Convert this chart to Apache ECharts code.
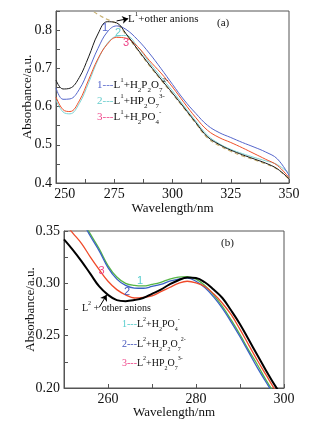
<!DOCTYPE html>
<html>
<head>
<meta charset="utf-8">
<script src="https://cdn.jsdelivr.net/npm/echarts@6/dist/echarts.min.js"></script>
<style>
  html, body { margin: 0; padding: 0; background: #fff; }
  #c { width: 323px; height: 427px; }
</style>
</head>
<body>
<div id="c"></div>
<script>
// panel (a)
const waveA = [250, 253, 256, 260, 264, 268, 272, 276, 280, 285, 290, 295, 300, 305, 310, 315, 320, 325, 330, 335, 340, 345, 350];
const blackA = [0.669, 0.646, 0.648, 0.676, 0.730, 0.790, 0.822, 0.819, 0.791, 0.750, 0.710, 0.672, 0.635, 0.597, 0.558, 0.521, 0.501, 0.486, 0.474, 0.463, 0.452, 0.437, 0.411];
const blueA = [0.649, 0.619, 0.620, 0.645, 0.696, 0.752, 0.795, 0.811, 0.802, 0.775, 0.740, 0.700, 0.658, 0.617, 0.582, 0.551, 0.532, 0.519, 0.506, 0.494, 0.481, 0.463, 0.420];
const cyanA = [0.617, 0.586, 0.581, 0.608, 0.662, 0.722, 0.765, 0.784, 0.786, 0.757, 0.716, 0.678, 0.641, 0.601, 0.562, 0.525, 0.503, 0.488, 0.477, 0.467, 0.458, 0.448, 0.425];
const redA = [0.625, 0.592, 0.587, 0.615, 0.670, 0.725, 0.763, 0.781, 0.779, 0.757, 0.721, 0.688, 0.651, 0.610, 0.571, 0.538, 0.519, 0.506, 0.492, 0.477, 0.462, 0.446, 0.414];
const dashWaveA = [264, 266, 268, 270, 272, 274, 276, 280, 285, 290, 295, 300, 305, 310, 315, 320, 325, 330, 335, 340, 345, 350];
const dashA = [0.860, 0.849, 0.841, 0.834, 0.828, 0.823, 0.817, 0.789, 0.748, 0.708, 0.670, 0.633, 0.595, 0.556, 0.518, 0.498, 0.483, 0.471, 0.461, 0.450, 0.436, 0.410];

// panel (b)
const waveB = [250, 252, 254, 256, 258, 260, 262, 264, 266, 268, 270, 272, 274, 276, 278, 280, 282, 284, 286, 288, 290, 292, 294, 296, 298, 300];
const blackB = [0.342, 0.332, 0.321, 0.309, 0.297, 0.289, 0.284, 0.283, 0.284, 0.286, 0.290, 0.294, 0.299, 0.303, 0.3055, 0.305, 0.301, 0.294, 0.286, 0.274, 0.261, 0.246, 0.231, 0.216, 0.202, 0.190];
const greenB = [0.390, 0.376, 0.362, 0.347, 0.333, 0.317, 0.306, 0.300, 0.298, 0.2975, 0.299, 0.301, 0.304, 0.306, 0.3065, 0.304, 0.298, 0.289, 0.278, 0.265, 0.251, 0.236, 0.222, 0.207, 0.194, 0.183];
const blueB = [0.388, 0.374, 0.360, 0.345, 0.331, 0.315, 0.304, 0.298, 0.2955, 0.2953, 0.297, 0.299, 0.302, 0.304, 0.305, 0.302, 0.296, 0.287, 0.276, 0.263, 0.249, 0.234, 0.219, 0.205, 0.192, 0.181];
const redB = [0.358, 0.348, 0.338, 0.325, 0.313, 0.302, 0.294, 0.289, 0.286, 0.2865, 0.288, 0.292, 0.296, 0.300, 0.302, 0.3005, 0.297, 0.290, 0.281, 0.270, 0.256, 0.241, 0.226, 0.212, 0.198, 0.186];

const serif = 'Liberation Serif';
const frame = '#555';

function pairs(xs, ys) {
  return xs.map((x, i) => [x, ys[i]]);
}

function line(idx, data, color, width, extra) {
  return Object.assign({
    type: 'line',
    xAxisIndex: idx,
    yAxisIndex: idx,
    data: data,
    smooth: 0.4,
    showSymbol: false,
    lineStyle: { color: color, width: width },
    z: 3
  }, extra || {});
}

function xAx(idx, min, max, step, fmt, gap) {
  return {
    gridIndex: idx, type: 'value', min: min, max: max, interval: step,
    axisLine: { show: true, lineStyle: { color: frame } },
    axisTick: { inside: true, length: 4, lineStyle: { color: frame } },
    splitLine: { show: false },
    axisLabel: { formatter: fmt, margin: 4, fontFamily: serif, fontSize: 14, color: '#111' },
    name: 'Wavelength/nm', nameLocation: 'middle', nameGap: gap, nameMoveOverlap: false,
    nameTextStyle: { fontFamily: serif, fontSize: 13, color: '#111' }
  };
}

function yAx(idx, min, max, step, fmt, gap) {
  return {
    gridIndex: idx, type: 'value', min: min, max: max, interval: step,
    axisLine: { show: true, lineStyle: { color: frame } },
    axisTick: { inside: true, length: 4, lineStyle: { color: frame } },
    splitLine: { show: false },
    axisLabel: { formatter: fmt, margin: 4, fontFamily: serif, fontSize: 14, color: '#111' },
    name: 'Absorbance/a.u.', nameLocation: 'middle', nameGap: gap, nameRotate: 90, nameMoveOverlap: false,
    nameTextStyle: { fontFamily: serif, fontSize: 13, color: '#111' }
  };
}

// rich text with sub/superscripts
function rich(size, color) {
  const lh = size + 6;
  return {
    n: { fontSize: size, fontFamily: serif, fill: '#111', lineHeight: lh },
    c: { fontSize: size, fontFamily: serif, fill: color, lineHeight: lh },
    p: { fontSize: size - 4, fontFamily: serif, fill: '#111', lineHeight: lh, verticalAlign: 'top' },
    b: { fontSize: size - 4, fontFamily: serif, fill: '#111', lineHeight: lh, verticalAlign: 'bottom' }
  };
}

function txt(x, y, text, size, color) {
  return {
    type: 'text', x: x, y: y, z: 10,
    style: { text: text, rich: rich(size, color || '#111'), verticalAlign: 'middle' }
  };
}

function num(x, y, text, color) {
  return {
    type: 'text', x: x, y: y, z: 10,
    style: { text: text, fill: color, font: '11px "Liberation Sans"', align: 'center', verticalAlign: 'middle' }
  };
}

const arrowLine = (from, to) => ({
  silent: true, symbol: ['none', 'arrow'], symbolSize: 6,
  lineStyle: { color: '#000', type: 'solid', width: 1 },
  label: { show: false },
  data: [[{ coord: from }, { coord: to }]]
});

const chart = echarts.init(document.getElementById('c'));

chart.setOption({
  animation: false,
  backgroundColor: '#fff',
  grid: [
    { left: 56, top: 11, width: 233, height: 172, show: true, borderColor: frame, borderWidth: 1, backgroundColor: 'transparent' },
    { left: 64, top: 231, width: 220, height: 157, show: true, borderColor: frame, borderWidth: 1, backgroundColor: 'transparent' }
  ],
  xAxis: [
    // the first label sits just right of the corner, as in the original
    xAx(0, 250, 350, 12.5, v => v === 250 ? '\u00a0\u00a0\u00a0\u00a0\u00a0250' : (v % 25 === 0 ? String(v) : ''), 19),
    xAx(1, 250, 300, 10, v => (v === 260 || v === 280 || v === 300) ? String(v) : '', 18)
  ],
  yAxis: [
    yAx(0, 0.4, 0.85, 0.05, v => {
      const k = Math.round(v * 100);
      return (k % 10 === 0 && k <= 80) ? (k / 100).toFixed(1) : '';
    }, 22),
    yAx(1, 0.2, 0.35, 0.025, v => {
      const k = Math.round(v * 1000);
      return k % 50 === 0 ? (k / 1000).toFixed(2) : '';
    }, 27)
  ],
  series: [
    line(0, pairs(dashWaveA, dashA), '#c8b070', 1, { lineStyle: { color: '#c8b070', width: 1.2, type: [4, 3] }, z: 2 }),
    line(0, pairs(waveA, cyanA), '#7fd6d6', 1),
    line(0, pairs(waveA, redA), '#f0502a', 1),
    line(0, pairs(waveA, blueA), '#5566cc', 1),
    line(0, pairs(waveA, blackA), '#1a1a1a', 1, { markLine: arrowLine([276, 0.824], [281, 0.830]) }),
    line(1, pairs(waveB, greenB), '#55b545', 1.3),
    line(1, pairs(waveB, blueB), '#3a62c4', 1.3),
    line(1, pairs(waveB, redB), '#f04a2a', 1.3),
    line(1, pairs(waveB, blackB), '#000', 2, { markLine: arrowLine([258.0, 0.277], [259.7, 0.289]) })
  ],
  graphic: [
    txt(128, 19, '{n|L}{p|1}{n|+other anions}', 11),
    { type: 'text', x: 217, y: 23, style: { text: '(a)', font: '11px "Liberation Serif"', fill: '#111', verticalAlign: 'middle' } },
    num(105, 28, '1', '#5566cc'),
    num(118, 33, '2', '#66cccc'),
    num(126, 43, '3', '#ee4488'),
    txt(97, 85, '{c|1---}{n|L}{p|1}{n|+H}{b|2}{n|P}{b|2}{n|O}{b|7}{p|2-}', 11, '#5566cc'),
    txt(97, 101, '{c|2---}{n|L}{p|1}{n|+HP}{b|2}{n|O}{b|7}{p|3-}', 11, '#66cccc'),
    txt(97, 117, '{c|3---}{n|L}{p|1}{n|+H}{b|2}{n|PO}{b|4}{p|-}', 11, '#ee4488'),

    { type: 'text', x: 221, y: 243, style: { text: '(b)', font: '11px "Liberation Serif"', fill: '#111', verticalAlign: 'middle' } },
    txt(82, 308, '{n|L}{p|2}{n| + other anions}', 10),
    num(140, 281, '1', '#55cccc'),
    num(127, 292, '2', '#4455bb'),
    num(101.5, 271, '3', '#ee4488'),
    txt(122, 324, '{c|1---}{n|L}{p|2}{n|+H}{b|2}{n|PO}{b|4}{p|-}', 10, '#55cccc'),
    txt(122, 344, '{c|2---}{n|L}{p|2}{n|+H}{b|2}{n|P}{b|2}{n|O}{b|7}{p|2-}', 10, '#4455bb'),
    txt(122, 363, '{c|3---}{n|L}{p|2}{n|+HP}{b|2}{n|O}{b|7}{p|3-}', 10, '#ee4488')
  ]
});
</script>
</body>
</html>
